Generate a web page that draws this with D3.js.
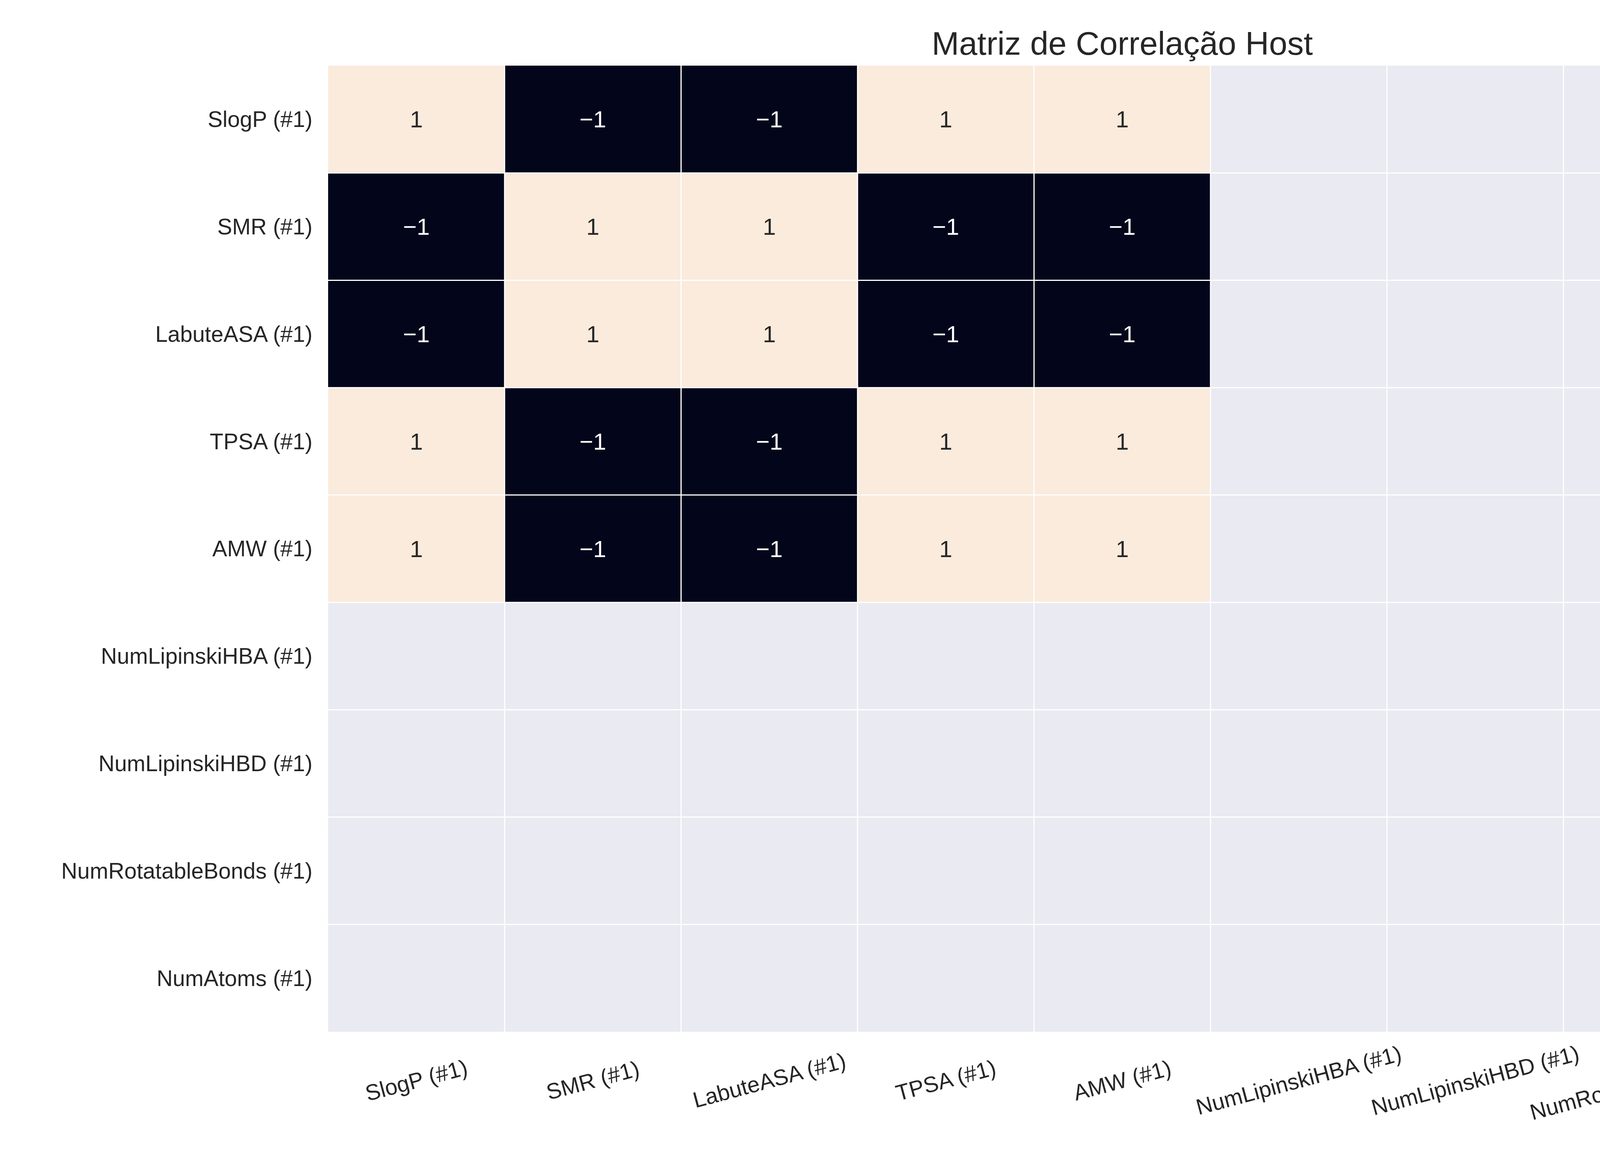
<!DOCTYPE html>
<html><head><meta charset="utf-8">
<script src="https://cdn.jsdelivr.net/npm/d3@7"></script>
<style>body{margin:0;background:#fff}text{font-family:"Liberation Sans",Arial,sans-serif}</style>
</head><body><svg id="c" width="6000" height="3000"></svg>
<script>
const labels = ['SlogP (#1)', 'SMR (#1)', 'LabuteASA (#1)', 'TPSA (#1)', 'AMW (#1)',
  'NumLipinskiHBA (#1)', 'NumLipinskiHBD (#1)', 'NumRotatableBonds (#1)', 'NumAtoms (#1)'];
// correlation matrix, null = NaN
const N = null;
const matrix = [
  [1, -1, -1, 1, 1, N, N, N, N],
  [-1, 1, 1, -1, -1, N, N, N, N],
  [-1, 1, 1, -1, -1, N, N, N, N],
  [1, -1, -1, 1, 1, N, N, N, N],
  [1, -1, -1, 1, 1, N, N, N, N],
  [N, N, N, N, N, N, N, N, N],
  [N, N, N, N, N, N, N, N, N],
  [N, N, N, N, N, N, N, N, N],
  [N, N, N, N, N, N, N, N, N]
];
const cbarTicks = [-0.8, -0.4, 0.0, 0.4, 0.8];
const rocketStops = ['#03051a', '#35193e', '#701f57', '#ad1759', '#e13342', '#f37651', '#f6b48f', '#faebdd'];

const svg = d3.select('#c');
const mLeft = 840, mRight = 4906, mTop = 168, mBottom = 2641;
const x = d3.scaleBand().domain(labels).range([mLeft, mRight]);
const y = d3.scaleBand().domain(labels).range([mTop, mBottom]);
const color = d3.scaleSequential(d3.interpolateRgbBasis(rocketStops)).domain([-1, 1]);

// background (NaN area)
svg.append('rect').attr('x', mLeft).attr('y', mTop).attr('width', mRight - mLeft).attr('height', mBottom - mTop).attr('fill', '#eaeaf2');

const cells = [];
matrix.forEach((row, i) => row.forEach((v, j) => cells.push({ r: labels[i], c: labels[j], v })));

svg.append('g').selectAll('rect').data(cells.filter(d => d.v !== null)).enter().append('rect')
  .attr('x', d => x(d.c)).attr('y', d => y(d.r))
  .attr('width', x.bandwidth()).attr('height', y.bandwidth())
  .attr('fill', d => color(d.v));

// grid lines
const grid = svg.append('g').attr('stroke', '#fff').attr('stroke-width', 3);
labels.slice(1).forEach(l => {
  grid.append('line').attr('x1', x(l)).attr('x2', x(l)).attr('y1', mTop).attr('y2', mBottom);
  grid.append('line').attr('y1', y(l)).attr('y2', y(l)).attr('x1', mLeft).attr('x2', mRight);
});

svg.append('g').selectAll('text').data(cells.filter(d => d.v !== null)).enter().append('text')
  .attr('x', d => x(d.c) + x.bandwidth() / 2).attr('y', d => y(d.r) + y.bandwidth() / 2)
  .attr('dy', '0.35em').attr('text-anchor', 'middle').attr('font-size', 60)
  .attr('fill', d => d.v < 0 ? '#fff' : '#262626')
  .text(d => d3.format('d')(d.v));

// y labels
svg.append('g').selectAll('text').data(labels).enter().append('text')
  .attr('x', 800).attr('y', d => y(d) + y.bandwidth() / 2).attr('dy', '0.35em')
  .attr('text-anchor', 'end').attr('font-size', 57).attr('fill', '#262626').text(d => d);

// x labels rotated
svg.append('g').selectAll('text').data(labels).enter().append('text')
  .attr('transform', d => `translate(${x(d) + x.bandwidth() / 2},2765) rotate(-15)`)
  .attr('dy', '0.35em').attr('text-anchor', 'middle').attr('font-size', 57).attr('fill', '#262626').text(d => d);

// title
svg.append('text').attr('x', (mLeft + mRight) / 2).attr('y', 111).attr('dy', '0.35em')
  .attr('text-anchor', 'middle').attr('font-size', 84).attr('fill', '#262626').text('Matriz de Correlação Host');

// colorbar
const cbX = 5162, cbW = 123;
const cy = d3.scaleLinear().domain([-1, 1]).range([2643, 168]);
const defs = svg.append('defs');
const grad = defs.append('linearGradient').attr('id', 'gr').attr('x1', 0).attr('x2', 0).attr('y1', 1).attr('y2', 0);
d3.range(0, 1.0001, 0.02).forEach(t => grad.append('stop').attr('offset', t).attr('stop-color', color(-1 + 2 * t)));
svg.append('rect').attr('x', cbX).attr('y', 168).attr('width', cbW).attr('height', 2643 - 168).attr('fill', 'url(#gr)');
const ax = svg.append('g').attr('transform', `translate(${cbX + cbW},0)`)
  .call(d3.axisRight(cy).tickValues(cbarTicks).tickFormat(d => d3.format('.1f')(d).replace('-', '\u2212')).tickSize(14).tickPadding(14));
ax.select('.domain').remove();
ax.selectAll('line').attr('stroke', '#262626').attr('stroke-width', 3);
ax.selectAll('text').attr('font-size', 57).attr('fill', '#262626').attr('font-family', '"Liberation Sans",Arial,sans-serif');
</script></body></html>
